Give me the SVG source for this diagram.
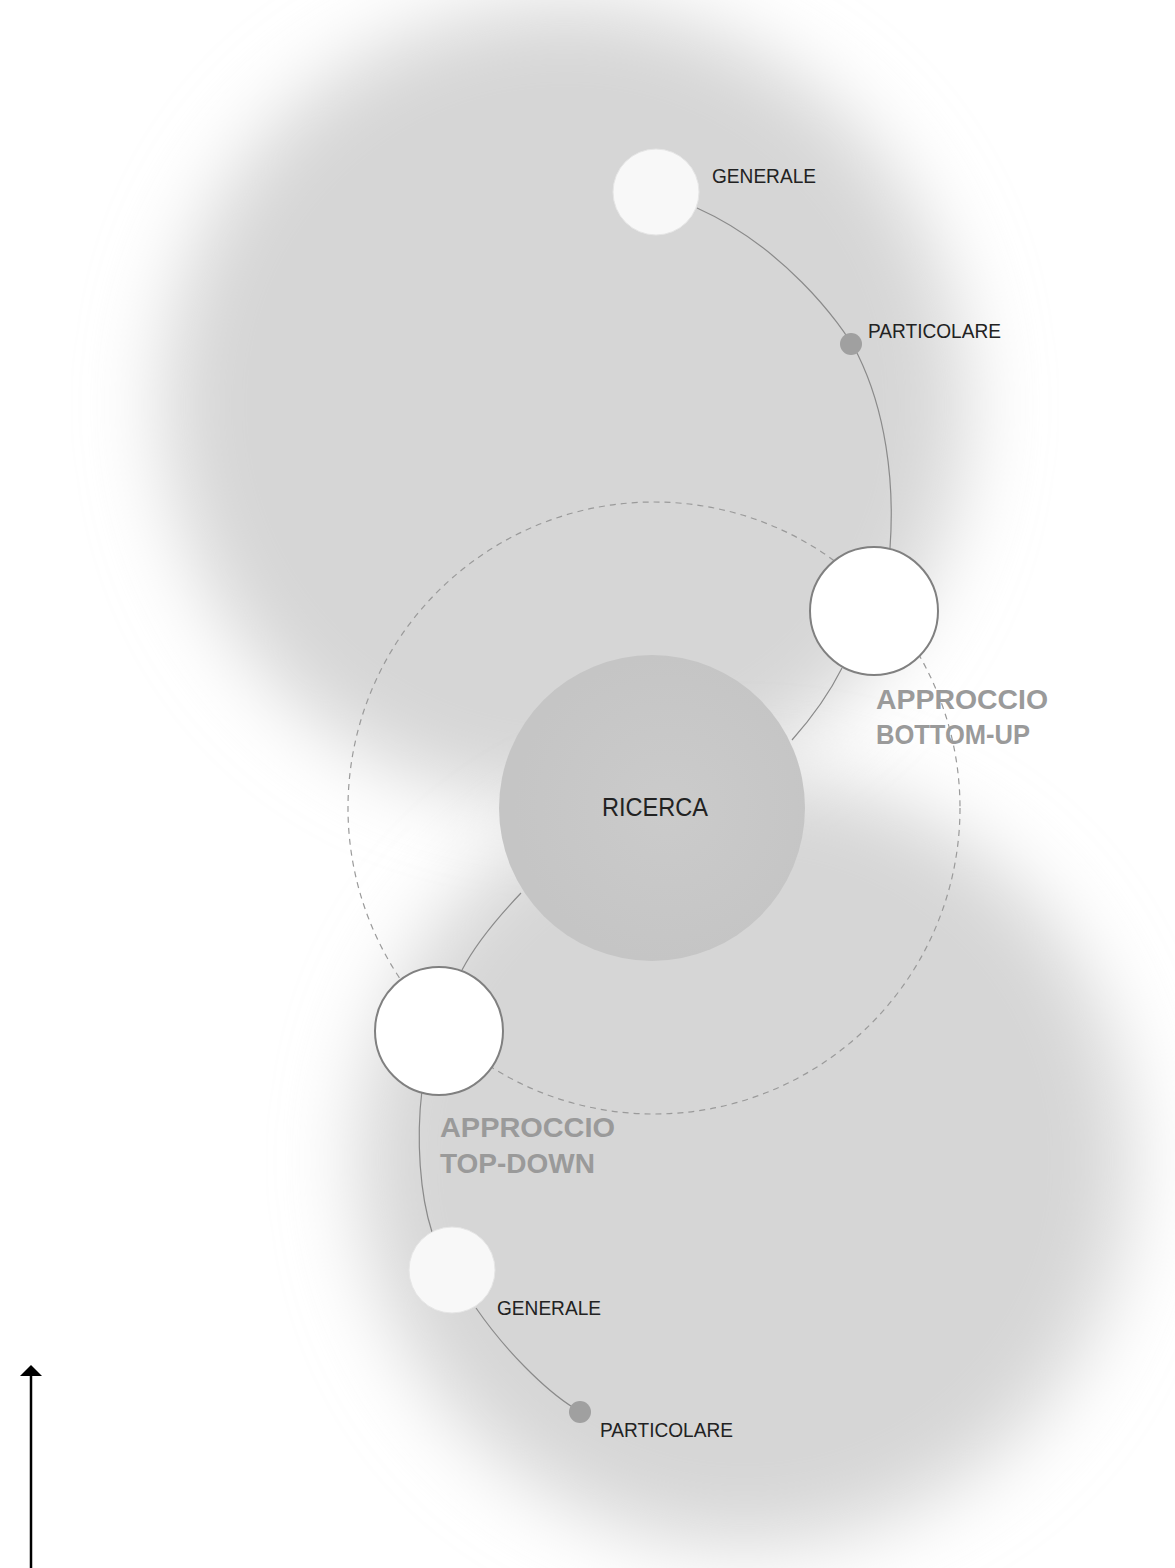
<svg xmlns="http://www.w3.org/2000/svg" width="1175" height="1568" viewBox="0 0 1175 1568">
<defs>
<filter id="blur" x="-50%" y="-50%" width="200%" height="200%"><feGaussianBlur stdDeviation="40"/></filter>
<marker id="arr" markerWidth="11" markerHeight="22" refX="9" refY="11" orient="auto" markerUnits="userSpaceOnUse"><path d="M0,0 L11,11 L0,22 z" fill="#000"/></marker>
<radialGradient id="core" cx="0.55" cy="0.5" r="0.5"><stop offset="0" stop-color="#cbcbcb"/><stop offset="1" stop-color="#c5c5c5"/></radialGradient>
</defs>
<style>
.lbl{font-family:"Liberation Sans",Arial,sans-serif;font-size:21px;fill:#222}
.big{font-family:"Liberation Sans",Arial,sans-serif;font-size:28px;font-weight:bold;fill:#9a9a9a}
.node{fill:#fff;stroke:#808080;stroke-width:2}
.soft{fill:#f8f8f8;stroke:#e6e6e6;stroke-width:1}
.dot{fill:#a0a0a0}
.link{fill:none;stroke:#8a8a8a;stroke-width:1.2}
</style>
<rect width="1175" height="1568" fill="#fff"/>
<g id="background">
<circle cx="565" cy="405" r="400" fill="#d6d6d6" filter="url(#blur)"/>
<circle cx="745" cy="1160" r="385" fill="#d6d6d6" filter="url(#blur)"/>
</g>
<g id="connectors">
<circle cx="654" cy="808" r="306" fill="none" stroke="#9a9a9a" stroke-width="1.2" stroke-dasharray="6,5"/>
<path class="link" d="M697,208 C780,245 840,320 858,355 C885,410 895,480 890,548"/>
<path class="link" d="M842,668 C826,700 808,722 792,740"/>
<path class="link" d="M521,893 C500,915 475,945 462,970"/>
<path class="link" d="M422,1090 C416,1140 420,1195 432,1232"/>
<path class="link" d="M476,1308 C505,1350 545,1390 574,1408"/>
<line x1="31" y1="1568" x2="31" y2="1367" stroke="#000" stroke-width="2.5" marker-end="url(#arr)"/>
</g>
<g id="node-ricerca">
<circle cx="652" cy="808" r="153" fill="url(#core)"/>
<text class="lbl" x="602" y="816" style="font-size:26px" textLength="106" lengthAdjust="spacingAndGlyphs">RICERCA</text>
</g>
<g id="node-generale-top">
<circle class="soft" cx="656" cy="192" r="43"/>
<text class="lbl" x="712" y="183" textLength="104" lengthAdjust="spacingAndGlyphs">GENERALE</text>
</g>
<g id="node-particolare-top">
<circle class="dot" cx="851" cy="344" r="11"/>
<text class="lbl" x="868" y="338" textLength="133" lengthAdjust="spacingAndGlyphs">PARTICOLARE</text>
</g>
<g id="node-bottom-up">
<circle class="node" cx="874" cy="611" r="64"/>
<text class="big" x="876" y="709" textLength="172" lengthAdjust="spacingAndGlyphs">APPROCCIO</text>
<text class="big" x="876" y="744" textLength="154" lengthAdjust="spacingAndGlyphs">BOTTOM-UP</text>
</g>
<g id="node-top-down">
<circle class="node" cx="439" cy="1031" r="64"/>
<text class="big" x="440" y="1137" textLength="175" lengthAdjust="spacingAndGlyphs">APPROCCIO</text>
<text class="big" x="440" y="1173" textLength="155" lengthAdjust="spacingAndGlyphs">TOP-DOWN</text>
</g>
<g id="node-generale-bottom">
<circle class="soft" cx="452" cy="1270" r="43"/>
<text class="lbl" x="497" y="1315" textLength="104" lengthAdjust="spacingAndGlyphs">GENERALE</text>
</g>
<g id="node-particolare-bottom">
<circle class="dot" cx="580" cy="1412" r="11"/>
<text class="lbl" x="600" y="1437" textLength="133" lengthAdjust="spacingAndGlyphs">PARTICOLARE</text>
</g>
</svg>
